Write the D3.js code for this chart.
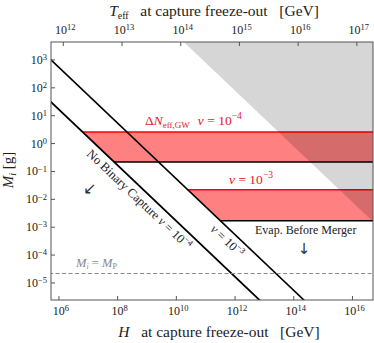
<!DOCTYPE html>
<html>
<head>
<meta charset="utf-8">
<script src="https://cdn.jsdelivr.net/npm/d3@7"></script>
<style>
body { margin: 0; background: #fff; }
text { font-family: "Liberation Serif", "DejaVu Serif", serif; }
</style>
</head>
<body>
<svg id="chart" width="374" height="343"></svg>
<script>
// data (H in GeV, M in g)
var hDomain = [5.37e5, 5.0e16];
var mDomain = [2.45e-6, 4.4e3];
var hTicks = [1e6, 1e8, 1e10, 1e12, 1e14, 1e16];
var tTicks = [1e12, 1e13, 1e14, 1e15, 1e16, 1e17];
var mTicks = [1e3, 1e2, 1e1, 1e0, 1e-1, 1e-2, 1e-3, 1e-4, 1e-5];
var captureV4 = [[1e5, 166], [1e14, 1.66e-7]];
var captureV3 = [[1e5, 5400], [1e15, 5.4e-7]];
var grayEdge = [[1e9, 7.9e4], [1e18, 7.9e-5]];
var bandV4 = [0.22, 2.6];
var bandV3 = [0.0017, 0.022];
var planckMass = 2.18e-5;
var hAtT12 = 1.41e6; // H at which T_eff = 1e12 GeV

var L = 51, R = 373, T = 42, B = 300;
var svg = d3.select("#chart");

var x = d3.scaleLog().domain(hDomain).range([L, R]);
var y = d3.scaleLog().domain(mDomain).range([B, T]);
function tOf(h) { return 1e12 * Math.sqrt(h / hAtT12); }
var xt = d3.scaleLog().domain(hDomain.map(tOf)).range([L, R]);

svg.append("clipPath").attr("id", "clip")
  .append("rect").attr("x", L).attr("y", T).attr("width", R - L).attr("height", B - T);
var plot = svg.append("g").attr("clip-path", "url(#clip)");

var line = d3.line().x(function(d){ return x(d[0]); }).y(function(d){ return y(d[1]); });

// H where a (log-straight) line reaches mass m
function hAt(ln, m) {
  var t = (Math.log10(m) - Math.log10(ln[0][1])) / (Math.log10(ln[1][1]) - Math.log10(ln[0][1]));
  return Math.pow(10, Math.log10(ln[0][0]) + t * (Math.log10(ln[1][0]) - Math.log10(ln[0][0])));
}

function band(b, ln) {
  var lo = b[0], hi = b[1];
  plot.append("path")
    .attr("d", line([[hAt(ln, hi), hi], [1e18, hi], [1e18, lo], [hAt(ln, lo), lo]]) + "Z")
    .attr("fill", "#ff8080");
  plot.append("path").attr("d", line([[hAt(ln, hi), hi], [1e18, hi]]))
    .attr("stroke", "#ff0000").attr("stroke-width", 1.5).attr("fill", "none");
  plot.append("path").attr("d", line([[hAt(ln, lo), lo], [1e18, lo]]))
    .attr("stroke", "#000").attr("stroke-width", 1.5).attr("fill", "none");
}
band(bandV4, captureV4);
band(bandV3, captureV3);

plot.append("path").attr("d", line(captureV4))
  .attr("stroke", "#000").attr("stroke-width", 1.8).attr("fill", "none");
plot.append("path").attr("d", line(captureV3))
  .attr("stroke", "#000").attr("stroke-width", 1.6).attr("fill", "none");

plot.append("path")
  .attr("d", line([grayEdge[0], grayEdge[1], [1e18, 1e8], [1e9, 1e8]]) + "Z")
  .attr("fill", "#000").attr("fill-opacity", 0.16);

plot.append("path").attr("d", line([[1e5, planckMass], [1e18, planckMass]]))
  .attr("stroke", "#888").attr("stroke-width", 1).attr("stroke-dasharray", "4,2.5").attr("fill", "none");

// frame and ticks
svg.append("rect").attr("x", L).attr("y", T).attr("width", R - L).attr("height", B - T)
  .attr("fill", "none").attr("stroke", "#555").attr("stroke-width", 1);

function pow10(sel, v) {
  var e = Math.round(Math.log10(v));
  sel.append("tspan").text("10");
  sel.append("tspan").attr("dy", "-0.45em").attr("font-size", "8.5px").text(String(e).replace("-", "\u2212"));
}

hTicks.forEach(function(h) {
  svg.append("line").attr("x1", x(h)).attr("x2", x(h)).attr("y1", B).attr("y2", B - 4)
    .attr("stroke", "#555");
  var t = svg.append("text").attr("x", x(h) + 2).attr("y", 315).attr("text-anchor", "middle")
    .attr("font-size", "12px").attr("fill", "#222");
  pow10(t, h);
});
tTicks.forEach(function(v) {
  svg.append("line").attr("x1", xt(v)).attr("x2", xt(v)).attr("y1", T).attr("y2", T + 4)
    .attr("stroke", "#555");
  var t = svg.append("text").attr("x", xt(v) + 2).attr("y", 34).attr("text-anchor", "middle")
    .attr("font-size", "12px").attr("fill", "#222");
  pow10(t, v);
});
mTicks.forEach(function(m) {
  svg.append("line").attr("x1", L).attr("x2", L + 4).attr("y1", y(m)).attr("y2", y(m))
    .attr("stroke", "#555");
  var t = svg.append("text").attr("x", 47).attr("y", y(m) + 4).attr("text-anchor", "end")
    .attr("font-size", "12px").attr("fill", "#222");
  pow10(t, m);
});

// axis titles
var topTitle = svg.append("text").attr("x", 214).attr("y", 16).attr("text-anchor", "middle")
  .attr("font-size", "15.5px").attr("fill", "#222");
topTitle.append("tspan").attr("font-style", "italic").text("T");
topTitle.append("tspan").attr("font-size", "10px").attr("dy", "3").text("eff");
topTitle.append("tspan").attr("dy", "-3").style("white-space", "pre").text("   at capture freeze-out   [GeV]");

var botTitle = svg.append("text").attr("x", 219).attr("y", 337).attr("text-anchor", "middle")
  .attr("font-size", "15.5px").attr("fill", "#222");
botTitle.append("tspan").attr("font-style", "italic").text("H");
botTitle.append("tspan").style("white-space", "pre").text("   at capture freeze-out   [GeV]");

var yTitle = svg.append("text").attr("transform", "translate(13,170) rotate(-90)")
  .attr("text-anchor", "middle").attr("font-size", "15px").attr("fill", "#222");
yTitle.append("tspan").attr("font-style", "italic").text("M");
yTitle.append("tspan").attr("font-size", "10px").attr("dy", "3").attr("font-style", "italic").text("i");
yTitle.append("tspan").attr("dy", "-3").text(" [g]");

// annotations
var red = "#e8141c";
var a1 = svg.append("text").attr("x", 145).attr("y", 125).attr("font-size", "13.5px").attr("fill", red);
a1.append("tspan").text("\u0394");
a1.append("tspan").attr("font-style", "italic").text("N");
a1.append("tspan").attr("font-size", "9px").attr("dy", "3").text("eff,GW");
a1.append("tspan").attr("dy", "-3").attr("dx", "8").attr("font-style", "italic").text("v");
a1.append("tspan").text(" = 10");
a1.append("tspan").attr("font-size", "9.5px").attr("dy", "-6").text("\u22124");

var a2 = svg.append("text").attr("x", 229).attr("y", 184).attr("font-size", "13.5px").attr("fill", red);
a2.append("tspan").attr("font-style", "italic").text("v");
a2.append("tspan").text(" = 10");
a2.append("tspan").attr("font-size", "9.5px").attr("dy", "-6").text("\u22123");

function slanted(ln, px, label, exp) {
  var p0 = [x(ln[0][0]), y(ln[0][1])], p1 = [x(ln[1][0]), y(ln[1][1])];
  var ang = Math.atan2(p1[1] - p0[1], p1[0] - p0[0]) * 180 / Math.PI;
  var h = x.invert(px);
  var py = y(hAt([[ln[0][1], ln[0][0]], [ln[1][1], ln[1][0]]], h));
  var t = svg.append("text")
    .attr("transform", "translate(" + px + "," + py + ") rotate(" + ang + ")")
    .attr("text-anchor", "middle").attr("dy", 14).attr("font-size", "12.5px").attr("fill", "#222");
  t.append("tspan").text(label);
  t.append("tspan").attr("font-style", "italic").text("v");
  t.append("tspan").text(" = 10");
  t.append("tspan").attr("font-size", "8.5px").attr("dy", "-5").text("\u2212" + exp);
}
slanted(captureV4, 146, "No Binary Capture ", "4");
slanted(captureV3, 234, "", "3");

svg.append("text").attr("x", 90).attr("y", 194).attr("text-anchor", "middle")
  .style("font-family", "'DejaVu Sans', sans-serif").attr("font-size", "16px")
  .attr("fill", "#333").text("\u2199");
svg.append("text").attr("x", 255).attr("y", 234).attr("font-size", "12px")
  .attr("fill", "#222").text("Evap. Before Merger");
svg.append("text").attr("x", 304).attr("y", 254).attr("text-anchor", "middle")
  .style("font-family", "'DejaVu Sans', sans-serif").attr("font-size", "15px")
  .attr("fill", "#333").text("\u2193");

var mp = svg.append("text").attr("x", 76).attr("y", 267).attr("font-size", "12.5px").attr("fill", "#888");
mp.append("tspan").attr("font-style", "italic").text("M");
mp.append("tspan").attr("font-size", "8px").attr("dy", "2").attr("font-style", "italic").text("i");
mp.append("tspan").attr("dy", "-2").text(" = ");
mp.append("tspan").attr("font-style", "italic").text("M");
mp.append("tspan").attr("font-size", "8px").attr("dy", "2").text("P");
</script>
</body>
</html>
